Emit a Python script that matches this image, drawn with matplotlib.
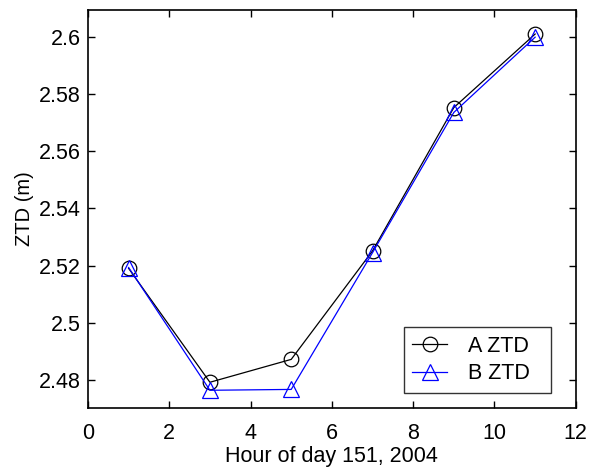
import numpy as np
import matplotlib.pyplot as plt

plt.rcParams['font.family'] = ['Liberation Sans', 'DejaVu Sans']

hours = [1, 3, 5, 7, 9, 11]
ztd_a = [2.5190, 2.4792, 2.4872, 2.5251, 2.5752, 2.6009]
ztd_b = [2.5193, 2.4764, 2.4767, 2.5245, 2.5735, 2.5998]

fig = plt.figure(figsize=(5.92, 4.67), dpi=100)
ax = fig.add_axes([0.1486, 0.1263, 0.824, 0.8523])

ax.plot(hours, ztd_a, '-o', color='black', lw=0.9, ms=10.5,
        mfc='none', mew=0.9, label='A ZTD  ')
ax.plot(hours, ztd_b, '-^', color='blue', lw=0.9, ms=12,
        mfc='none', mew=0.9, label='B ZTD  ')

ax.set_xlim(0, 12)
ax.set_ylim(2.4702, 2.6093)
ax.set_xticks(np.arange(0, 13, 2))
ax.set_yticks([2.48, 2.5, 2.52, 2.54, 2.56, 2.58, 2.6])
ax.set_yticklabels(['2.48', '2.5', '2.52', '2.54', '2.56', '2.58', '2.6'])
ax.tick_params(direction='in', top=True, right=True, length=5, width=1,
               labelsize=15.5)
ax.tick_params(axis='x', pad=11)
ax.tick_params(axis='y', pad=5)
for s in ax.spines.values():
    s.set_linewidth(1.2)

ax.set_xlabel('Hour of day 151, 2004', fontsize=15.5, labelpad=1)
ax.set_ylabel('ZTD (m)', fontsize=14.5, labelpad=4)

leg = ax.legend(loc='lower right', bbox_to_anchor=(0.949, 0.0377), fontsize=15.5,
                frameon=True, fancybox=False, edgecolor='black',
                handlelength=1.6, handletextpad=1.0, borderpad=0.4,
                labelspacing=0.3, borderaxespad=0)
leg.get_frame().set_linewidth(1.0)

plt.savefig('out.png', dpi=100)
